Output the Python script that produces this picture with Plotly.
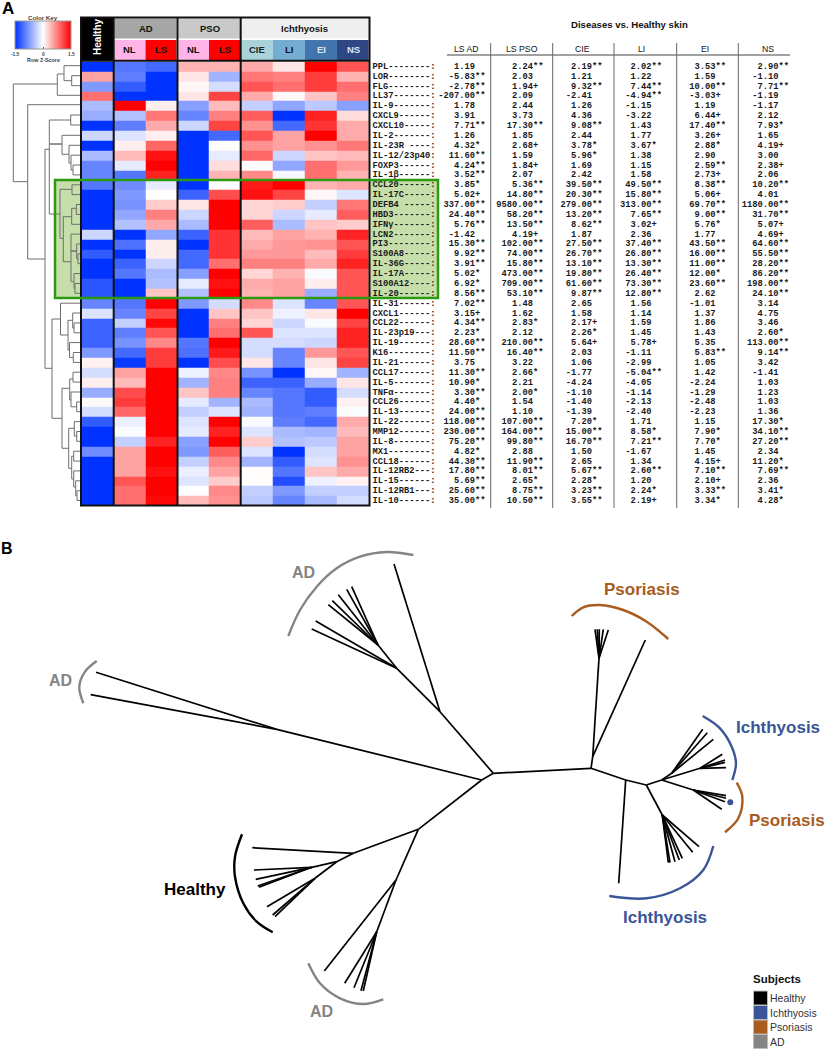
import plotly.graph_objects as go

# ---------- Panel A data ----------
COLUMNS = ["Healthy", "AD NL", "AD LS", "PSO NL", "PSO LS", "CIE", "LI", "EI", "NS"]
GENE_LABELS = [
    "PPL--------:", "LOR--------:", "FLG--------:", "LL37-------:", "IL-9-------:", "CXCL9------:",
    "CXCL10-----:", "IL-2-------:", "IL-23R ----:", "IL-12/23p40:", "FOXP3------:", "IL-1β------:",
    "CCL20------:", "IL-17C-----:", "DEFB4 -----:", "HBD3-------:", "IFNγ-------:", "LCN2-------:",
    "PI3--------:", "S100A8-----:", "IL-36G-----:", "IL-17A-----:", "S100A12----:", "IL-20------:",
    "IL-31------:", "CXCL1------:", "CCL22------:", "IL-23p19---:", "IL-19------:", "K16--------:",
    "IL-21------:", "CCL17------:", "IL-5-------:", "TNFα-------:", "CCL26------:", "IL-13------:",
    "IL-22------:", "MMP12------:", "IL-8-------:", "MX1--------:", "CCL18------:", "IL-12RB2---:",
    "IL-15------:", "IL-12RB1---:", "IL-10------:",
]
Z_SCORES = [
    [-1.5, -1.0, -1.1, 0.45, 0.45, 0.5, 0.15, 1.5, 1.0],
    [0.55, -0.95, -1.5, 0.15, -0.55, 0.8, 0.75, 1.15, 0.45],
    [-0.75, -1.2, -1.5, 0.05, -0.25, 1.0, 0.85, 1.15, 0.85],
    [0.85, -1.5, -1.5, 0.15, 1.1, 0.5, 0.05, 0.35, 0.75],
    [-0.5, 1.5, 0.1, -0.7, 0.4, -0.35, -0.65, -0.4, -0.7],
    [-0.6, -0.45, 0.8, -0.9, 0.75, 0.95, -1.5, 1.3, 0.2],
    [-1.5, -0.95, 0.5, -0.3, 1.1, 0.65, -1.1, 1.2, 0.5],
    [-0.3, -0.2, 0.1, -1.5, -1.1, 1.0, 0.55, 1.5, 0.5],
    [-1.5, 0.1, 0.9, -1.5, 0.02, 0.65, 0.55, 0.65, 0.8],
    [-0.5, 0.4, 1.4, -1.5, -0.15, 0.9, -0.3, 0.35, 0.4],
    [-0.9, -0.15, 1.5, -1.5, 0.2, 0.02, -0.65, 0.85, 0.6],
    [-0.9, -1.0, 1.3, -1.5, 0.45, 0.7, -0.05, 0.85, 0.45],
    [-1.0, -0.85, -0.15, -1.5, 0.0, 1.35, 1.5, 0.45, 0.5],
    [-1.5, -0.75, 0.0, -1.15, 1.05, 1.4, 1.1, 0.05, -0.2],
    [-1.5, -0.8, 0.3, 0.15, 1.5, 0.25, 0.3, -0.35, 0.8],
    [-1.5, -0.65, 0.75, -0.3, 1.5, 0.25, -0.3, -0.15, 0.95],
    [-1.5, -0.45, 0.5, -0.5, 1.5, 0.95, -0.5, 0.35, 0.3],
    [-0.3, -1.5, -0.65, -1.15, 1.2, 0.4, 0.55, 0.45, 1.3],
    [-1.5, -1.05, 0.1, -1.5, 1.2, 0.5, 0.6, 0.65, 1.0],
    [-1.2, -1.5, 0.1, -1.1, 1.2, 0.6, 0.6, 0.4, 1.15],
    [-1.5, -1.15, -0.3, -1.1, 0.85, 0.75, 0.75, 0.5, 1.3],
    [-1.5, -1.0, -0.5, -0.7, 1.5, 0.25, 0.45, -0.03, 1.0],
    [-1.25, -1.5, -0.45, -0.15, 1.4, 0.5, 0.55, 0.1, 1.0],
    [-1.25, -1.5, 0.35, -0.45, 1.5, 0.45, 0.55, -0.6, 1.0],
    [-0.9, -1.0, 1.5, -0.75, -0.25, 0.7, -0.2, -0.9, 1.0],
    [-0.2, -0.9, 1.1, -1.5, 0.35, 0.35, -0.1, 0.15, 1.5],
    [-1.15, -0.35, 1.45, -1.5, 0.75, 0.25, -0.3, -0.03, 1.1],
    [-1.15, -0.95, 1.0, -1.5, 0.85, 1.0, -0.2, -0.2, 1.3],
    [-1.15, -0.8, 0.7, -1.0, 1.5, -0.25, -0.25, -0.3, 1.3],
    [-0.75, -1.1, 1.15, -1.05, 1.35, -0.25, -0.9, 0.6, 1.0],
    [0.08, -1.45, 1.15, -1.5, 1.05, 0.15, -0.9, 0.15, 1.1],
    [-0.25, 0.55, 1.5, -0.1, 0.7, -0.8, -1.5, 0.05, -0.55],
    [0.1, 0.4, 1.5, -0.55, 0.75, -1.15, -1.15, -0.6, 0.15],
    [-0.6, 1.05, 1.5, 0.35, 0.75, -0.9, -1.0, -1.2, -0.25],
    [0.03, 1.15, 1.5, -0.15, -0.55, -0.5, -1.0, -1.2, 0.08],
    [-0.25, 0.9, 1.5, -0.35, -0.2, -0.55, -1.0, -0.95, -0.03],
    [-1.2, -0.12, 1.5, -0.2, 1.5, -0.03, -0.95, -1.1, 0.5],
    [-1.5, -0.03, 1.5, -0.15, 1.3, -0.2, -0.5, -0.55, 0.4],
    [-1.5, -0.35, 1.3, -0.7, 1.5, 0.3, -0.45, -0.4, 0.55],
    [-0.85, 0.55, 1.5, -0.75, 0.95, -0.2, -1.5, -0.25, 0.55],
    [-1.5, 0.55, 1.5, -0.35, 0.7, -0.55, -1.2, -0.2, 0.65],
    [-1.5, 0.55, 1.4, -0.12, 0.55, 0.02, -1.0, 0.35, 0.5],
    [-1.5, 1.0, 1.5, -0.2, 0.3, 0.02, -1.3, -0.1, 0.08],
    [-1.5, 0.85, 1.5, 0.0, 0.7, -0.35, -0.75, -0.35, -0.35],
    [-1.5, 0.85, 1.45, 0.4, 0.65, -0.4, -0.9, -0.5, -0.25],
]

TABLE_HEADERS = ["LS AD", "LS PSO", "CIE", "LI", "EI", "NS"]
LS_AD = ["1.19", "-5.83**", "-2.78**", "-207.00**", "1.78", "3.91", "7.71**", "1.26", "4.32*", "11.60**", "4.24**", "3.52**",
         "3.85*", "5.02+", "337.00**", "24.40**", "5.76**", "-1.42", "15.30**", "9.92**", "3.91**", "5.02*", "6.92*", "8.56**",
         "7.02**", "3.15+", "4.34**", "2.23*", "28.60**", "11.50**", "3.75", "11.30**", "10.90*", "3.30**", "4.40*", "24.00**",
         "118.00**", "230.00**", "75.20**", "4.82*", "44.30**", "17.80**", "5.69**", "25.60**", "35.00**"]
LS_PSO = ["2.24**", "2.03", "1.94+", "2.09", "2.44", "3.73", "17.30**", "1.85", "2.68+", "1.59", "1.84+", "2.07",
          "5.36**", "14.80**", "9580.00**", "58.20**", "13.50**", "4.19+", "102.00**", "74.00**", "15.80**", "473.00**", "709.00**", "53.10**",
          "1.48", "1.62", "2.83*", "2.12", "210.00**", "16.40**", "3.22", "2.66*", "2.21", "2.00*", "1.54", "1.10",
          "107.00**", "164.00**", "99.80**", "2.88", "11.90**", "8.01**", "2.65*", "8.75**", "10.50**"]
CIE = ["2.19**", "1.21", "9.32**", "-2.41", "1.26", "4.36", "9.08**", "2.44", "3.78*", "5.96*", "1.69", "2.42",
       "39.50**", "20.30**", "279.00**", "13.20**", "8.62**", "1.87", "27.50**", "26.70**", "13.10**", "19.80**", "61.60**", "9.87**",
       "2.65", "1.58", "2.17+", "2.26*", "5.64+", "2.03", "1.06", "-1.77", "-4.24", "-1.10", "-1.40", "-1.39",
       "7.20*", "15.00**", "16.70**", "1.50", "2.65", "5.67**", "2.28*", "3.23**", "3.55**"]
LI = ["2.02**", "1.22", "7.44**", "-4.94**", "-1.15", "-3.22", "1.43", "1.77", "3.67*", "1.38", "1.15", "1.58",
      "49.50**", "15.80**", "313.00**", "7.65**", "3.02+", "2.36", "37.40**", "26.80**", "13.30**", "26.40**", "73.30**", "12.80**",
      "1.56", "1.14", "1.59", "1.45", "5.78+", "-1.11", "-2.99", "-5.04**", "-4.05", "-1.14", "-2.13", "-2.40",
      "1.71", "8.58*", "7.21**", "-1.67", "1.34", "2.60**", "1.20", "2.24*", "2.19+"]
EI = ["3.53**", "1.59", "10.00**", "-3.03+", "1.19", "6.44+", "17.40**", "3.26+", "2.88*", "2.90", "2.59**", "2.73+",
      "8.38**", "5.06+", "69.70**", "9.00**", "5.76*", "1.77", "43.50**", "16.00**", "11.00**", "12.00*", "23.60**", "2.62",
      "-1.01", "1.37", "1.86", "1.43", "5.35", "5.83**", "1.05", "1.42", "-2.24", "-1.29", "-2.48", "-2.23",
      "1.15", "7.90*", "7.70*", "1.45", "4.15+", "7.10**", "2.10+", "3.33**", "3.34*"]
NS = ["2.90**", "-1.10", "7.71**", "-1.19", "-1.17", "2.12", "7.93*", "1.65", "4.19+", "3.00", "2.38+", "2.06",
      "10.20**", "4.01", "1180.00**", "31.70**", "5.07+", "4.69+", "64.60**", "55.50**", "28.20**", "86.20**", "198.00**", "24.10**",
      "3.14", "4.75", "3.46", "2.60*", "113.00**", "9.14**", "3.42", "-1.41", "1.03", "1.23", "1.03", "1.36",
      "17.30*", "34.10**", "27.20**", "2.34", "11.20*", "7.69**", "2.36", "3.41*", "4.28*"]
TABLE_COLUMNS = [LS_AD, LS_PSO, CIE, LI, EI, NS]

# Dendrogram brackets: x of spine, y top, y bottom, x reached at top, x reached at bottom
DENDRO_BRACKETS = [
    (13.3, 84, 181.7, 57.3, 27.7), (57.3, 74, 95.3, 64, 80), (64, 65.7, 80.7, 80, 71.7), (71.7, 75.7, 85.7, 80, 80),
    (27.7, 104.7, 259, 80, 45), (45, 149.3, 368.3, 49.3, 52), (49.3, 120, 214, 70.7, 60), (70.7, 115, 125, 80, 80),
    (49.7, 144, 144, 62, 62), (62, 135.3, 154.3, 80, 69), (69, 145.3, 163, 80, 71), (71, 155.2, 170, 80, 73),
    (73, 165, 174.9, 80, 80), (60, 189.3, 238.3, 72, 63.3), (72, 184.8, 194.6, 80, 80), (63.3, 216.7, 261.7, 71.7, 71),
    (71.7, 208.3, 224.3, 76.3, 80), (76.3, 204.5, 214.4, 80, 80), (71, 234.1, 281.7, 80, 74), (71, 251, 251, 76.7, 76.7),
    (76.7, 244, 258.8, 80, 78), (78, 253.8, 263.7, 80, 80), (74, 273.6, 288.3, 80, 75), (75, 283.5, 293.3, 80, 80),
    (52, 319, 418.3, 60.5, 62), (60.5, 303.2, 335, 80, 68), (68, 320.3, 350, 72.7, 69.5), (72.7, 313, 328, 80, 74),
    (74, 322.9, 332.8, 80, 80), (69.5, 342.6, 357.4, 80, 73.3), (73.3, 352.5, 362.4, 80, 80), (62, 388.3, 448.3, 69.7, 68.7),
    (69.7, 379, 400, 73, 71), (73, 372.2, 382.1, 80, 80), (71, 392, 406.8, 80, 76.7), (76.7, 401.9, 411.7, 80, 80),
    (68.7, 428.3, 468.3, 74.3, 71.7), (74.3, 421.6, 436, 80, 76.7), (76.7, 431.5, 441.3, 80, 80),
    (71.7, 456.2, 479, 73.7, 73.7), (73.7, 451.2, 461.1, 80, 80), (73.7, 470.9, 487, 80, 75.7),
    (75.7, 480.8, 495.6, 80, 77), (77, 490.7, 500.5, 80, 80),
]

# ---------- Panel B data: unrooted tree, branches as (x0, y0, x1, y1) ----------
TREE_BRANCHES = [
    (493.3, 773.3, 591, 768.3), (493.3, 773.3, 440, 711.7), (493.3, 773.3, 481.7, 780),
    (440, 711.7, 394, 564), (440, 711.7, 396.7, 668.3), (396.7, 668.3, 311.7, 629), (396.7, 668.3, 315.7, 621),
    (396.7, 668.3, 378, 645), (378, 645, 328.3, 604.7), (378, 645, 332.3, 600.7), (378, 645, 338.3, 594.7),
    (378, 645, 346.7, 589.3), (378, 645, 351.7, 586.7),
    (481.7, 780, 276.7, 729.3), (276.7, 729.3, 96, 672.3), (276.7, 729.3, 90.7, 694.7),
    (481.7, 780, 418.3, 829.3), (418.3, 829.3, 353.3, 853.3), (353.3, 853.3, 252.3, 847.7), (353.3, 853.3, 336.7, 861.7),
    (336.7, 861.7, 311.7, 867.3), (311.7, 867.3, 254, 870), (311.7, 867.3, 255.7, 879.3), (311.7, 867.3, 257.7, 886),
    (311.7, 867.3, 259, 887.3), (336.7, 861.7, 315, 878.3), (315, 878.3, 267, 906.7), (315, 878.3, 272.7, 915),
    (315, 878.3, 275, 916.7), (418.3, 829.3, 396, 880), (396, 880, 324.3, 971), (396, 880, 376.7, 931.7),
    (376.7, 931.7, 344.7, 983.3), (376.7, 931.7, 354, 987.7), (376.7, 931.7, 361, 990.7), (376.7, 931.7, 363.3, 991),
    (591, 768.3, 592.7, 756.7), (592.7, 756.7, 599, 658.3), (599, 658.3, 595, 629.3), (599, 658.3, 597.3, 629.3),
    (599, 658.3, 599.3, 629.3), (599, 658.3, 603.3, 629.3), (599, 658.3, 608.3, 630), (592.7, 756.7, 645.3, 640),
    (591, 768.3, 625.7, 780), (625.7, 780, 618.7, 883.3), (625.7, 780, 646.3, 785), (646.3, 785, 661.7, 780),
    (646.3, 785, 662.3, 815), (661.7, 780, 671.7, 773.3), (671.7, 773.3, 702.7, 729.3), (671.7, 773.3, 707.3, 732.7),
    (671.7, 773.3, 713.3, 739.3), (661.7, 780, 700, 768.3), (700, 768.3, 722.3, 754.3), (700, 768.3, 725, 760),
    (700, 768.3, 725, 762.3), (700, 768.3, 726, 767.7), (661.7, 780, 693.3, 790), (693.3, 790, 726, 795.7),
    (693.3, 790, 726, 798.3), (693.3, 790, 725, 801.7), (693.3, 790, 721.7, 809.3), (662.3, 815, 699, 846.7),
    (662.3, 815, 692.7, 852.3), (662.3, 815, 682.3, 858.3), (662.3, 815, 679.3, 860), (662.3, 815, 675, 861.7),
    (662.3, 815, 670, 862.7), (662.3, 815, 668.3, 862.7),
]
ARC_AD_TOP = [(288.3, 636), (300, 610), (316.7, 586.7), (336.7, 568.3), (360, 556.7), (386.7, 552), (413.3, 555)]
ARC_AD_LEFT = [(96.7, 661), (85, 671.7), (79.3, 686.7), (83.3, 703.3)]
ARC_AD_BOTTOM = [(308.3, 963.3), (320, 983.3), (340, 998.3), (363.3, 1004), (383.3, 999.3)]
ARC_HEALTHY = [(242, 834.3), (235, 856.7), (235, 876.7), (243.3, 903.3), (256.7, 921.7), (272.7, 932.3)]
ARC_PSO_TOP = [(571.7, 616), (583.3, 607.3), (600, 605), (623.3, 610), (646.7, 621.7), (668.3, 639)]
ARC_PSO_RIGHT = [(736.7, 782.7), (742.3, 796.7), (738.3, 818.3), (725, 832.3)]
ARC_ICH_TOP = [(702.7, 716), (720, 728.3), (731.7, 746.7), (736, 763.3), (732.3, 780)]
ARC_ICH_BOTTOM = [(713.3, 846), (703.3, 870), (680, 888.3), (646.7, 898.3), (609.3, 896)]
STRAY_POINT = [(730.3, 802.3)]

LEGEND_LABELS = ["Healthy", "Ichthyosis", "Psoriasis", "AD"]

# ---------- Styling and layout constants ----------
BLACK, BLUE, BROWN, GRAY = "#000000", "#3A5699", "#A85C1E", "#848484"
SANS, MONO = "Liberation Sans", "Liberation Mono"
COL_EDGES = [81.7, 113.5, 145.5, 177.5, 209, 240.5, 273, 305, 337, 369]
ROW_TOP, ROW_H = 61.7, 9.87
TABLE_RIGHT = [485.5, 543.5, 602.5, 662, 726, 789]
TABLE_HEAD_X = [466, 521.7, 582.7, 641, 705, 768]
TABLE_RULES = [490.7, 552.7, 614, 676.7, 738.3]
n_rows = len(GENE_LABELS)
row_edges = [ROW_TOP + ROW_H * i for i in range(n_rows + 1)]
row_mid = [ROW_TOP + ROW_H * (i + 0.5) for i in range(n_rows)]

fig = go.Figure()

# Heat map with colour key as its own colour bar
fig.add_trace(go.Heatmap(
    z=Z_SCORES, x=COL_EDGES, y=row_edges, zmin=-1.5, zmax=1.5, hoverinfo="skip",
    colorscale=[[0, "#0033FF"], [0.5, "#FFFFFF"], [1, "#FF0000"]],
    colorbar=dict(
        orientation="h", x=43 / 826, xanchor="center", y=1 - 52 / 1050, yanchor="bottom",
        thickness=28, thicknessmode="pixels", len=56, lenmode="pixels", xpad=0, ypad=0,
        outlinewidth=1, outlinecolor="#999999", tickmode="array", tickvals=[-1.5, 0, 1.5],
        showticklabels=False, ticks="inside", ticklen=2, tickwidth=0.5, tickcolor="#555555",
        title=dict(text="", side="top"),
    ),
))

# Dendrogram
dx, dy = [], []
for xs, y0, y1, x0, x1 in DENDRO_BRACKETS:
    dx += [x0, xs, xs, x1, None]
    dy += [y0, y0, y1, y1, None]
fig.add_trace(go.Scatter(x=dx, y=dy, mode="lines", line=dict(color="#6E6E6E", width=1), hoverinfo="skip", showlegend=False))

# Gene labels and table values
fig.add_trace(go.Scatter(x=[372.5] * n_rows, y=row_mid, text=GENE_LABELS, mode="text", textposition="middle right",
                         textfont=dict(family=MONO, size=8.75, color="#1A1A1A", weight="bold"),
                         hoverinfo="skip", showlegend=False))


def padded(v):
    tail = len(v) - len(v.rstrip("*+"))
    return v + "\u00a0" * (2 - tail)


for right, col in zip(TABLE_RIGHT, TABLE_COLUMNS):
    fig.add_trace(go.Scatter(x=[right] * n_rows, y=row_mid, text=[padded(v) for v in col], mode="text",
                             textposition="middle left",
                             textfont=dict(family=MONO, size=8.75, color="#1A1A1A", weight="bold"),
                             hoverinfo="skip", showlegend=False))

# Tree
tx, ty = [], []
for x0, y0, x1, y1 in TREE_BRANCHES:
    tx += [x0, x1, None]
    ty += [y0, y1, None]
fig.add_trace(go.Scatter(x=tx, y=ty, mode="lines", line=dict(color="#000000", width=1.7), hoverinfo="skip", showlegend=False))

for arc, color in [(ARC_AD_TOP, GRAY), (ARC_AD_LEFT, GRAY), (ARC_AD_BOTTOM, GRAY), (ARC_HEALTHY, BLACK),
                   (ARC_PSO_TOP, BROWN), (ARC_PSO_RIGHT, BROWN), (ARC_ICH_TOP, BLUE), (ARC_ICH_BOTTOM, BLUE)]:
    fig.add_trace(go.Scatter(x=[p[0] for p in arc], y=[p[1] for p in arc], mode="lines",
                             line=dict(color=color, width=2.4, shape="spline", smoothing=1),
                             hoverinfo="skip", showlegend=False))
fig.add_trace(go.Scatter(x=[p[0] for p in STRAY_POINT], y=[p[1] for p in STRAY_POINT], mode="markers",
                         marker=dict(color=BLUE, size=6), hoverinfo="skip", showlegend=False))

# Shapes
shapes = []


def rect(x0, y0, x1, y1, fill=None, line=None, width=0, layer="above"):
    shapes.append(dict(type="rect", xref="x", yref="y", x0=x0, y0=y0, x1=x1, y1=y1, layer=layer,
                       fillcolor=fill or "rgba(0,0,0,0)", line=dict(color=line or "rgba(0,0,0,0)", width=width)))


def seg(x0, y0, x1, y1, color, width):
    shapes.append(dict(type="line", xref="x", yref="y", x0=x0, y0=y0, x1=x1, y1=y1, layer="above",
                       line=dict(color=color, width=width)))


# green highlight
rect(55, 180, 81, 298, fill="#C6DFAA", layer="below")
rect(370, 180, 438, 298, fill="#C6DFAA", layer="below")

# heat map frame
rect(81, 18, 113.5, 61, fill="#000000")
rect(114.5, 18.5, 176.5, 38.5, fill="#A6A6A6")
rect(178.5, 18.5, 240, 38.5, fill="#C9C9C9")
rect(241.5, 18.5, 368.5, 38.5, fill="#EFEFEF")
HEAD_CELLS = [(114.5, 145.5, "#FFB3E6"), (145.5, 176.5, "#FF0000"), (178.5, 209, "#FFB3E6"), (209, 240, "#FF0000"),
              (241.5, 273, "#A9D3D8"), (273, 305, "#74ADD1"), (305, 337, "#4274AE"), (337, 368.5, "#2F4684")]
for x0, x1, c in HEAD_CELLS:
    rect(x0, 40, x1, 60, fill=c)
for x in (113.7, 177.5, 240.7):
    seg(x, 17.5, x, 505.5, "#111111", 2)
seg(81, 60.7, 369.5, 60.7, "#111111", 2)
rect(81, 17.5, 369.5, 505.5, line="#111111", width=2)
rect(55, 180, 438, 298, line="#2C9A10", width=2.5)

# table rules
seg(447, 55, 790, 55, "#444444", 1)
for x in TABLE_RULES:
    seg(x, 43, x, 508, "#666666", 1)

# legend swatches
SWATCH_TOP = [991, 1005.5, 1020, 1034.5]
for y, c in zip(SWATCH_TOP, [BLACK, BLUE, BROWN, GRAY]):
    rect(753.5, y, 767.5, y + 14, fill=c, line="#BBBBBB", width=1)


# Annotations
anns = []


def label(x, y, text, size, color="#111111", bold=False, angle=0, anchor="center", family=SANS):
    anns.append(dict(x=x, y=y, xref="x", yref="y", text=f"<b>{text}</b>" if bold else text, showarrow=False,
                     xanchor=anchor, yanchor="middle", textangle=angle, borderpad=0, borderwidth=0,
                     font=dict(family=family, size=size, color=color)))


label(7.7, 8, "A", 17, "#000000", True)
label(6.5, 548, "B", 16, "#000000", True)
label(43, 17, "Color Key", 6.2, "#444444", True)
for x, t in [(15, "-1.5"), (43, "0"), (71, "1.5")]:
    label(x, 54, t, 4.8, "#444444", True)
label(43, 60, "Row Z-Score", 5.4, "#444444", True)
label(97, 37, "Healthy", 10, "#FFFFFF", True, angle=-90)
label(145.5, 28, "AD", 9.5, "#111111", True)
label(209.5, 28, "PSO", 9.5, "#111111", True)
label(304, 28, "Ichthyosis", 9.5, "#111111", True)
for x, t, c in [(129.5, "NL", "#111111"), (161, "LS", "#111111"), (193.5, "NL", "#111111"), (225, "LS", "#111111"),
                (257, "CIE", "#222222"), (289, "LI", "#111111"), (321, "EI", "#DDE6F2"), (353, "NS", "#DDE6F2")]:
    label(x, 49.5, t, 9.5, c, True)
label(629, 24, "Diseases vs. Healthy skin", 9.6, "#111111", True)
for x, t in zip(TABLE_HEAD_X, TABLE_HEADERS):
    label(x, 48.5, t, 8.7, "#111111")

label(303, 572.7, "AD", 16, GRAY, True)
label(60.7, 680, "AD", 16, GRAY, True)
label(321.7, 1011, "AD", 16, GRAY, True)
label(195, 889.3, "Healthy", 17, BLACK, True)
label(641.7, 589.3, "Psoriasis", 17, BROWN, True)
label(786.7, 820.7, "Psoriasis", 17, BROWN, True)
label(778.3, 727.7, "Ichthyosis", 17, BLUE, True)
label(665.3, 917.3, "Ichthyosis", 17, BLUE, True)

label(753, 978.7, "Subjects", 11.5, "#111111", True, anchor="left")
for y, t in zip(SWATCH_TOP, LEGEND_LABELS):
    label(770, y + 7, t, 10.5, "#333333", anchor="left")

fig.update_layout(
    width=826, height=1050, margin=dict(l=0, r=0, t=0, b=0, pad=0, autoexpand=False),
    paper_bgcolor="white", plot_bgcolor="white", showlegend=False,
    xaxis=dict(range=[0, 826], visible=False, fixedrange=True),
    yaxis=dict(range=[1050, 0], visible=False, fixedrange=True),
    shapes=shapes, annotations=anns,
)

fig.write_html("out.html", config={"displayModeBar": False},
               post_script="document.body.style.margin='0';document.body.style.overflow='hidden';")
